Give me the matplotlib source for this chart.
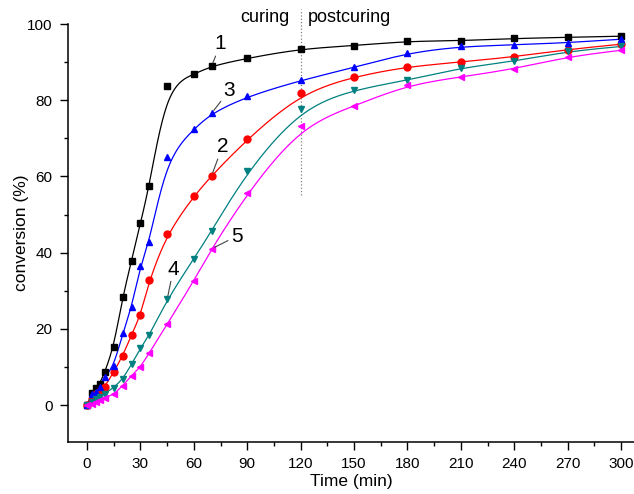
import matplotlib
matplotlib.use("Agg")
import matplotlib.pyplot as plt
import numpy as np
from matplotlib.ticker import MultipleLocator

plt.rcParams['font.family'] = ['Liberation Sans', 'DejaVu Sans']

# sampling times (min)
time = [0, 3, 5, 7, 10, 15, 20, 25, 30, 35, 45, 60, 70, 90,
        120, 150, 180, 210, 240, 270, 300]

# conversion (%) for each sample
conv_1 = [0, 3.2, 4.5, 5.5, 8.7, 15.3, 28.3, 37.9, 47.8, 57.5, 83.7, 86.8,
          89.0, 91.0, 93.5, 94.3, 95.5, 95.6, 96.2, 96.5, 96.8]
conv_2 = [0, 1.5, 3.0, 3.8, 4.8, 8.7, 12.9, 18.4, 23.5, 32.8, 45.0, 54.8,
          60.2, 69.8, 81.8, 86.2, 88.8, 90.0, 91.4, 93.3, 94.7]
conv_3 = [0, 2.8, 3.4, 4.8, 7.4, 10.2, 18.8, 25.6, 36.5, 42.8, 65.0, 72.4,
          76.6, 81.0, 85.2, 88.6, 92.4, 94.1, 94.5, 95.1, 96.0]
conv_4 = [0, 0.8, 1.5, 2.2, 3.0, 4.6, 6.8, 10.7, 14.9, 18.3, 27.7, 38.4,
          45.7, 61.3, 77.8, 82.8, 85.2, 88.5, 90.2, 92.8, 94.1]
conv_5 = [0, 0.4, 0.8, 1.3, 1.9, 2.8, 5.1, 7.7, 10.0, 13.7, 21.2, 32.6,
          41.0, 55.6, 73.1, 78.5, 84.0, 86.1, 88.2, 91.4, 93.1]


def bspline(x, y, n=40):
    """Uniform cubic B-spline using the points as control points,
    with repeated end points so the curve starts and ends on the data."""
    p = np.column_stack([x, y]).astype(float)
    p = np.vstack([p[0], p[0], p, p[-1], p[-1]])
    t = np.linspace(0, 1, n, endpoint=False)
    b0 = (1 - t) ** 3 / 6
    b1 = (3 * t**3 - 6 * t**2 + 4) / 6
    b2 = (-3 * t**3 + 3 * t**2 + 3 * t + 1) / 6
    b3 = t**3 / 6
    out = []
    for i in range(len(p) - 3):
        seg = (np.outer(b0, p[i]) + np.outer(b1, p[i + 1])
               + np.outer(b2, p[i + 2]) + np.outer(b3, p[i + 3]))
        out.append(seg)
    out.append(p[-1:])
    out = np.vstack(out)
    return out[:, 0], out[:, 1]


fig = plt.figure(figsize=(6.34, 4.94), dpi=100)
ax = fig.add_axes([68 / 634, 52 / 494, 566 / 634, 418 / 494])

series = [
    (conv_1, 'black', 's', 4.5),
    (conv_2, 'red', 'o', 5),
    (conv_3, 'blue', '^', 5),
    (conv_4, '#008080', 'v', 5),
    (conv_5, '#ff00ff', '<', 5),
]

for vals, color, marker, ms in series:
    cx, cy = bspline(time, vals)
    ax.plot(cx, cy, color=color, linewidth=0.9, zorder=2)
    ax.plot(time, vals, linestyle='none', marker=marker, color=color,
            markersize=ms, zorder=3, clip_on=False)

# curing / postcuring boundary
ax.plot([120, 120], [55, 104], color='gray', linestyle=':', linewidth=0.9,
        clip_on=False, zorder=1)
ax.text(114, 101.6, 'curing', ha='right', va='center', fontsize=13)
ax.text(124, 101.6, 'postcuring', ha='left', va='center', fontsize=13)

# curve numbers with leader lines
notes = [
    ('1', (70, 89.0), (75, 94.8)),
    ('2', (70, 60.2), (76, 67.8)),
    ('3', (70, 76.6), (80, 82.6)),
    ('4', (45, 27.7), (48.5, 35.7)),
    ('5', (70, 41.0), (84, 44.3)),
]
for txt, xy, xyt in notes:
    ax.annotate(txt, xy=xy, xytext=xyt, fontsize=15, ha='center', va='center',
                arrowprops=dict(arrowstyle='-', color='#444444', lw=0.8,
                                shrinkA=0, shrinkB=2.5))

ax.set_xlim(-10.7, 307.3)
ax.set_ylim(-9.7, 100)
ax.xaxis.set_major_locator(MultipleLocator(30))
ax.xaxis.set_minor_locator(MultipleLocator(15))
ax.yaxis.set_major_locator(MultipleLocator(20))
ax.yaxis.set_minor_locator(MultipleLocator(10))
ax.tick_params(which='major', direction='out', length=6, width=1,
               labelsize=11, pad=5)
ax.tick_params(which='minor', direction='out', length=3, width=1)
ax.spines['top'].set_visible(False)
ax.spines['right'].set_visible(False)
ax.spines['left'].set_linewidth(1.1)
ax.spines['bottom'].set_linewidth(1.1)

ax.set_xlabel('Time (min)', fontsize=12.5, labelpad=2)
ax.set_ylabel('conversion (%)', fontsize=12.5, labelpad=-1)

fig.savefig('out.png', dpi=100)
